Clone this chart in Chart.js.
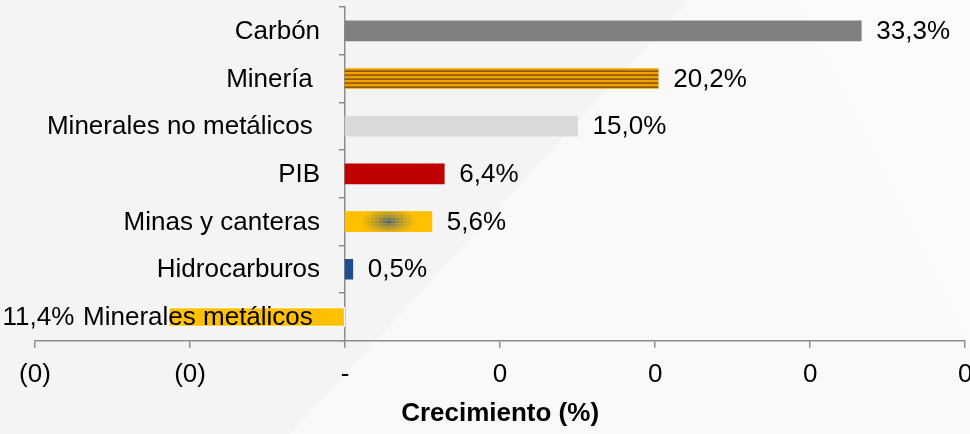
<!DOCTYPE html>
<html>
<head>
<meta charset="utf-8">
<script src="https://cdn.jsdelivr.net/npm/chart.js@4/dist/chart.umd.min.js"></script>
<style>
  body { margin: 0; background: #f4f4f4; overflow: hidden; }
  #wrap { width: 986px; height: 434px; position: relative; }
</style>
</head>
<body>
<div id="wrap"><canvas id="chart"></canvas></div>
<script>
// datos
const categories = ['Carbón', 'Minería ', 'Minerales no metálicos ', 'PIB', 'Minas y canteras', 'Hidrocarburos', 'Minerales metálicos '];
const growth = [0.333, 0.202, 0.150, 0.064, 0.056, 0.005, -0.114];
const xTickLabels = ['(0)', '(0)', '-', '0', '0', '0', '0'];
const axisTitle = 'Crecimiento (%)';

const FONT = '"Liberation Sans", Arial, sans-serif';

// patron de rayas para Minería
function stripes() {
  const c = document.createElement('canvas');
  c.width = 4; c.height = 4;
  const g = c.getContext('2d');
  const cols = ['#f4a300', '#ec9c00', '#b37400', '#8a5a00'];
  cols.forEach((col, i) => { g.fillStyle = col; g.fillRect(0, i, 4, 1); });
  return g.createPattern(c, 'repeat');
}

const ctx = document.getElementById('chart').getContext('2d');
const barColors = ['#808080', stripes(), '#d9d9d9', '#c00000', '#ffc000', '#1f4e8c', '#ffc000'];

const background = {
  id: 'background',
  beforeDraw(chart) {
    const c = chart.ctx, w = chart.width, h = chart.height;
    c.save();
    c.fillStyle = '#f4f4f4';
    c.fillRect(0, 0, w, h);
    c.fillStyle = '#f9f9f9';
    c.beginPath();
    c.moveTo(690, 0); c.lineTo(797, 0); c.lineTo(970, 346); c.lineTo(970, h); c.lineTo(290, h);
    c.closePath(); c.fill();
    c.fillStyle = '#fbfbfb';
    c.beginPath();
    c.moveTo(797, 0); c.lineTo(w, 0); c.lineTo(w, h); c.lineTo(970, h); c.lineTo(970, 346);
    c.closePath(); c.fill();
    c.restore();
  }
};

function mix(a, b, t) {
  return 'rgb(' + a.map((v, i) => Math.round(v + (b[i] - v) * t)).join(',') + ')';
}

const barDecor = {
  id: 'barDecor',
  afterDatasetsDraw(chart) {
    const meta = chart.getDatasetMeta(0);
    const c = chart.ctx;

    // mancha azul degradada en Minas y canteras
    const bar = meta.data[4];
    const left = Math.min(bar.base, bar.x), right = Math.max(bar.base, bar.x);
    const top = bar.y - bar.height / 2, bottom = bar.y + bar.height / 2;
    const cx = (left + right) / 2, cy = bar.y;
    const blue = [31, 78, 150], yellow = [255, 192, 0];
    c.save();
    for (let y = top; y < bottom; y += 3) {
      for (let x = left + 2; x < right; x += 4) {
        const dx = (x + 2 - cx) / 28, dy = (y + 1.5 - cy) / 14;
        const t = Math.min(1, Math.sqrt(dx * dx + dy * dy));
        c.fillStyle = mix(blue, yellow, Math.pow(t, 0.55));
        c.fillRect(x, y, Math.min(4, right - x), Math.min(3, bottom - y));
      }
    }
    c.restore();

    c.save();
    c.font = '26px ' + FONT;
    c.fillStyle = '#000';
    c.textBaseline = 'middle';

    // nombres de categoria junto al eje
    const xs = chart.scales.x, ys = chart.scales.y;
    const axisX = xs.getPixelForValue(0);
    c.textAlign = 'right';
    categories.forEach((name, i) => {
      c.fillText(name, axisX - 25, ys.getPixelForValue(i) + 1);
    });

    // etiquetas de valor
    meta.data.forEach((el, i) => {
      const v = growth[i];
      const txt = Math.abs(v * 100).toFixed(1).replace('.', ',') + '%';
      if (v >= 0) {
        c.textAlign = 'left';
        c.fillText(txt, el.x + 15, el.y + 1);
      } else {
        c.textAlign = 'right';
        c.fillText(txt, el.x - 94, el.y + 1);
      }
    });
    c.restore();
  }
};

Chart.defaults.font.family = FONT;
Chart.defaults.font.size = 26;
Chart.defaults.color = '#000';

new Chart(ctx, {
  type: 'bar',
  data: {
    labels: categories,
    datasets: [{
      data: growth,
      backgroundColor: barColors,
      borderColor: '#ffffff',
      borderWidth: [0, 0, 0, 0, 0, 0, 1.5],
      borderSkipped: false,
      barThickness: 20
    }]
  },
  options: {
    indexAxis: 'y',
    responsive: true,
    maintainAspectRatio: false,
    animation: false,
    layout: { padding: { left: 35, right: 0, top: 7, bottom: 7 } },
    plugins: { legend: { display: false }, tooltip: { enabled: false } },
    scales: {
      x: {
        min: -0.2,
        max: 0.4,
        border: { color: '#8c8c8c', width: 1.5 },
        grid: { drawOnChartArea: false, tickLength: 7, color: '#8c8c8c', lineWidth: 1.5 },
        ticks: {
          stepSize: 0.1,
          padding: 13.6,
          maxRotation: 0,
          autoSkip: false,
          font: { size: 26, lineHeight: 1 },
          callback: (v, i) => xTickLabels[i]
        },
        title: {
          display: true,
          text: axisTitle,
          font: { weight: 'bold', size: 26, lineHeight: 1 },
          padding: { top: 0, bottom: 0 }
        }
      },
      y: {
        position: { x: 0 },
        border: { color: '#8c8c8c', width: 1.5 },
        grid: { drawOnChartArea: false, tickLength: 5, color: '#8c8c8c', lineWidth: 1.5 },
        ticks: { display: false }
      }
    }
  },
  plugins: [background, barDecor]
});
</script>
</body>
</html>
